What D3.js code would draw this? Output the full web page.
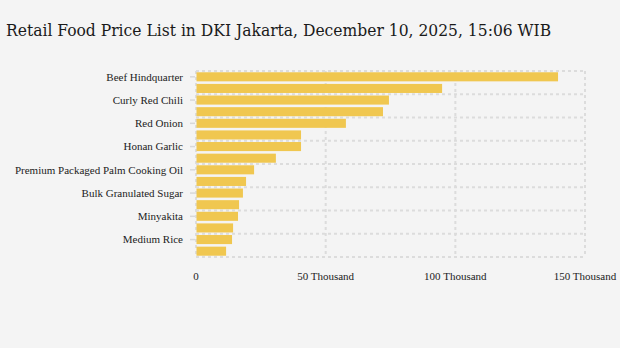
<!DOCTYPE html>
<html><head><meta charset="utf-8">
<script src="https://cdn.jsdelivr.net/npm/d3@7"></script>
<style>
html,body{margin:0;padding:0;background:#f4f4f4;}
svg{display:block;}
</style></head>
<body>
<svg id="chart" width="620" height="348"></svg>
<script>
const categories = [
  "Beef Hindquarter", "Bird's Eye Chili", "Curly Red Chili", "Large Red Chili",
  "Red Onion", "Broiler Chicken Meat", "Honan Garlic", "Purebred Chicken Eggs",
  "Premium Packaged Palm Cooking Oil", "Bulk Palm Cooking Oil", "Bulk Granulated Sugar",
  "Premium Rice", "Minyakita", "Medium Rice", "Medium Rice", "Wheat Flour"
];
// unique keys for band scale
const keys = categories.map((c, i) => i + "|" + c);
const values = [139600, 94900, 74400, 72100, 57800, 40500, 40500, 30800,
                22400, 19300, 18100, 16600, 16200, 14300, 13900, 11600];
const shownLabels = [0, 2, 4, 6, 8, 10, 12, 14];
const xTicks = [0, 50000, 100000, 150000];
const xTickLabels = ["0", "50 Thousand", "100 Thousand", "150 Thousand"];

const svg = d3.select("#chart");
svg.append("rect").attr("width", 620).attr("height", 348).attr("fill", "#f4f4f4");

svg.append("text")
  .attr("x", 6).attr("y", 36)
  .attr("font-family", "'DejaVu Serif Condensed', serif")
  .attr("font-size", 17.3)
  .attr("fill", "#1a1a1a")
  .text("Retail Food Price List in DKI Jakarta, December 10, 2025, 15:06 WIB");

const x = d3.scaleLinear().domain([0, 150000]).range([196, 585]);
const y = d3.scaleBand().domain(keys).range([71, 257]).paddingInner(0.22).paddingOuter(0.11);

const grid = svg.append("g").attr("stroke", "#dcdcdc").attr("stroke-width", 2)
  .attr("stroke-dasharray", "3,3").attr("fill", "none");
// horizontal gridlines every two bars
const step = y.step();
const hLines = d3.range(0, 17, 2).map(i => 71 + i * step);
grid.selectAll("line.h").data(hLines).join("line")
  .attr("x1", 196).attr("x2", 585).attr("y1", d => d).attr("y2", d => d);
grid.selectAll("line.v").data(xTicks).join("line")
  .attr("x1", d => x(d)).attr("x2", d => x(d)).attr("y1", 71).attr("y2", 257);

svg.append("g").selectAll("rect").data(values).join("rect")
  .attr("x", x(0) + 0.5)
  .attr("y", (d, i) => y(keys[i]))
  .attr("width", d => x(d) - x(0) - 0.5)
  .attr("height", y.bandwidth())
  .attr("fill", "#f0c750");

// y labels
const yl = svg.append("g");
shownLabels.forEach(i => {
  const cy = y(keys[i]) + y.bandwidth() / 2;
  yl.append("line").attr("x1", 190).attr("x2", 195).attr("y1", cy).attr("y2", cy)
    .attr("stroke", "#d8d8d8").attr("stroke-width", 1.5);
  yl.append("text").attr("x", 183).attr("y", cy).attr("dy", "0.35em")
    .attr("text-anchor", "end")
    .attr("font-family", "'Liberation Serif', 'Times New Roman', serif")
    .attr("font-size", 11).attr("fill", "#222")
    .text(categories[i]);
});

// x labels
svg.append("g").selectAll("text").data(xTicks).join("text")
  .attr("x", d => x(d)).attr("y", 280)
  .attr("text-anchor", "middle")
  .attr("font-family", "'Liberation Serif', 'Times New Roman', serif")
  .attr("font-size", 11).attr("fill", "#222")
  .text((d, i) => xTickLabels[i]);
</script>
</body></html>
